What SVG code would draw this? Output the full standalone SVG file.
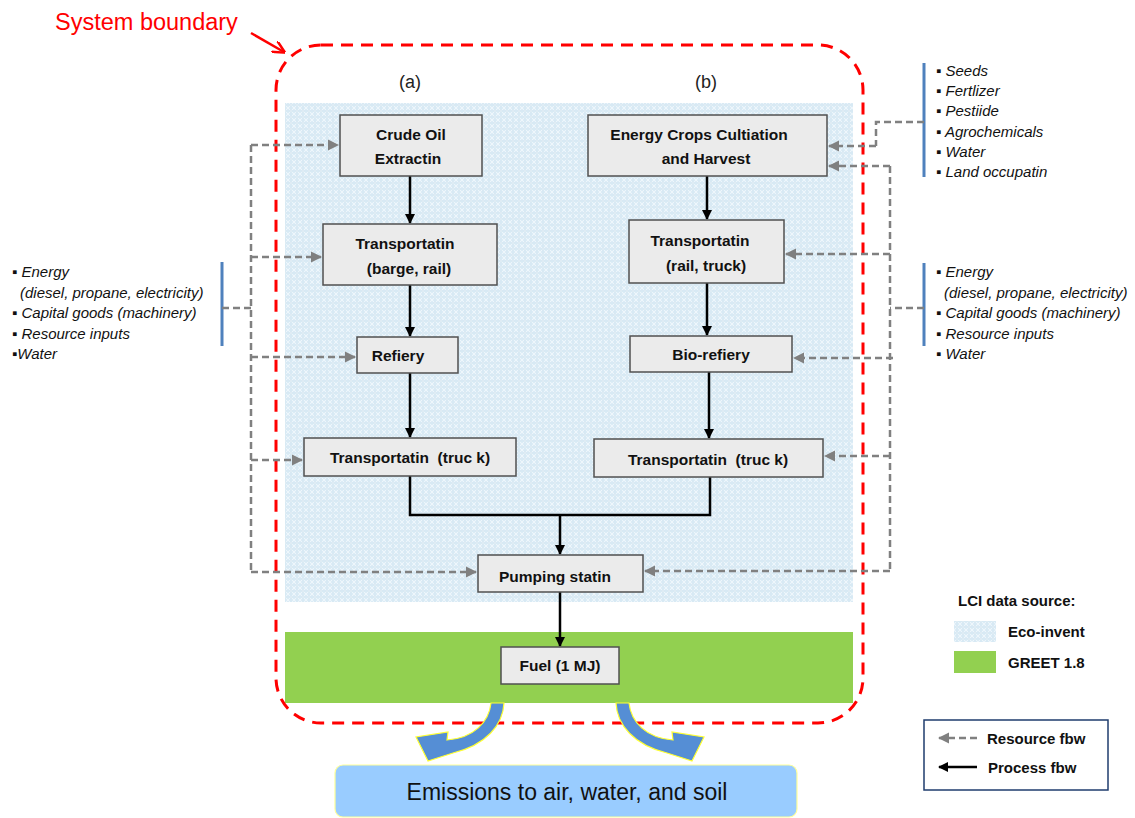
<svg xmlns="http://www.w3.org/2000/svg" width="1135" height="818" viewBox="0 0 1135 818">
<style>
.box{fill:#ebebeb;stroke:#505050;stroke-width:1.5}
.bt{font-family:"Liberation Sans",Arial,sans-serif;font-weight:bold;font-size:15.5px;fill:#111;text-anchor:middle}
.pre{white-space:pre}
.it{font-family:"Liberation Sans",Arial,sans-serif;font-style:italic;font-size:15px;fill:#111}
.res{fill:none;stroke:#808080;stroke-width:2.5;stroke-dasharray:7 4}
.proc{fill:none;stroke:#000;stroke-width:2.5}
.bar{stroke:#4f81bd;stroke-width:3}
.lg{font-family:"Liberation Sans",Arial,sans-serif;font-weight:bold;font-size:15px;fill:#111}
</style>
<defs>
<pattern id="eco" width="6" height="6" patternUnits="userSpaceOnUse">
<rect width="6" height="6" fill="#dcecf6"/>
<path d="M0 0L6 6M6 0L0 6" stroke="#eef6fb" stroke-width="1"/>
<path d="M0 3H6M3 0V6" stroke="#cfe3ef" stroke-width="0.6"/>
</pattern>
<marker id="ga" viewBox="0 0 10 10" refX="9" refY="5" markerWidth="4.5" markerHeight="4.5" orient="auto" markerUnits="strokeWidth">
<path d="M0 0L10 5L0 10z" fill="#808080"/>
</marker>
<marker id="ba" viewBox="0 0 10 10" refX="9" refY="5" markerWidth="4" markerHeight="4" orient="auto" markerUnits="strokeWidth">
<path d="M0 0L10 5L0 10z" fill="#000"/>
</marker>
<marker id="ra" viewBox="0 0 10 10" refX="9" refY="5" markerWidth="5" markerHeight="5" orient="auto" markerUnits="strokeWidth">
<path d="M0 0L10 5L0 10" fill="none" stroke="#ff0000" stroke-width="2"/>
</marker>
</defs>
<rect width="1135" height="818" fill="#fff"/>

<!-- data source areas -->
<rect id="eco-area" x="285" y="103" width="568" height="499" fill="url(#eco)"/>
<rect id="greet-area" x="285" y="632" width="568" height="71" fill="#92d050"/>

<!-- system boundary -->
<g id="boundary">
<rect x="276" y="45" width="587" height="678" rx="45" ry="45" fill="none" stroke="#ff0000" stroke-width="3" stroke-dasharray="12 8"/>
<text x="55" y="30" font-family="Liberation Sans,Arial,sans-serif" font-size="23.5" fill="#ff0000">System boundary</text>
<line x1="251" y1="33" x2="284" y2="52" stroke="#ff0000" stroke-width="2.5" marker-end="url(#ra)"/>
</g>

<text x="410" y="88" font-family="Liberation Sans,Arial,sans-serif" font-size="18" fill="#222" text-anchor="middle">(a)</text>
<text x="706" y="88" font-family="Liberation Sans,Arial,sans-serif" font-size="18" fill="#222" text-anchor="middle">(b)</text>

<!-- connectors -->
<g id="connectors">
<!-- process flows -->
<line class="proc" x1="410" y1="176" x2="410" y2="223" marker-end="url(#ba)"/>
<line class="proc" x1="410" y1="285" x2="410" y2="336" marker-end="url(#ba)"/>
<line class="proc" x1="410" y1="373" x2="410" y2="437" marker-end="url(#ba)"/>
<line class="proc" x1="707" y1="176" x2="707" y2="219" marker-end="url(#ba)"/>
<line class="proc" x1="707" y1="283" x2="707" y2="335" marker-end="url(#ba)"/>
<line class="proc" x1="709" y1="372" x2="709" y2="438" marker-end="url(#ba)"/>
<path class="proc" d="M410 476V515H710V477"/>
<line class="proc" x1="560" y1="515" x2="560" y2="554" marker-end="url(#ba)"/>
<line class="proc" x1="560" y1="592" x2="560" y2="646" marker-end="url(#ba)"/>
<!-- left resource flows -->
<line class="bar" x1="222" y1="262" x2="222" y2="346"/>
<path class="res" d="M222 308H251"/>
<path class="res" d="M251 145V572"/>
<line class="res" x1="251" y1="145" x2="338" y2="145" marker-end="url(#ga)"/>
<line class="res" x1="251" y1="257" x2="321" y2="257" marker-end="url(#ga)"/>
<line class="res" x1="251" y1="357" x2="355" y2="357" marker-end="url(#ga)"/>
<line class="res" x1="251" y1="460" x2="302" y2="460" marker-end="url(#ga)"/>
<line class="res" x1="251" y1="572" x2="476" y2="572" marker-end="url(#ga)"/>
<!-- right resource flows -->
<line class="bar" x1="924" y1="63" x2="924" y2="177"/>
<path class="res" d="M924 122H876V146"/>
<line class="res" x1="876" y1="146" x2="829" y2="146" marker-end="url(#ga)"/>
<line class="bar" x1="924" y1="263" x2="924" y2="346"/>
<path class="res" d="M924 308H890"/>
<path class="res" d="M890 166V571"/>
<line class="res" x1="890" y1="166" x2="829" y2="166" marker-end="url(#ga)"/>
<line class="res" x1="890" y1="254" x2="786" y2="254" marker-end="url(#ga)"/>
<line class="res" x1="893" y1="358" x2="794" y2="358" marker-end="url(#ga)"/>
<line class="res" x1="890" y1="456" x2="825" y2="456" marker-end="url(#ga)"/>
<line class="res" x1="890" y1="571" x2="645" y2="571" marker-end="url(#ga)"/>
</g>

<!-- nodes -->
<g id="crude-oil"><rect class="box" x="340" y="115" width="142" height="61"/>
<text class="bt" x="411" y="140">Crude Oil</text><text class="bt" x="408" y="164">Extractin</text></g>
<g id="transport-a"><rect class="box" x="323" y="224" width="174" height="61"/>
<text class="bt" x="405" y="249">Transportatin</text><text class="bt" x="409" y="274">(barge, rail)</text></g>
<g id="refinery"><rect class="box" x="357" y="337" width="101" height="36"/>
<text class="bt" x="398" y="361">Refiery</text></g>
<g id="truck-a"><rect class="box" x="304" y="438" width="212" height="38"/>
<text class="bt pre" x="410" y="463">Transportatin  (truc k)</text></g>
<g id="crops"><rect class="box" x="588" y="115" width="239" height="61"/>
<text class="bt" x="699" y="140">Energy Crops Cultiation</text><text class="bt" x="706" y="164">and Harvest</text></g>
<g id="transport-b"><rect class="box" x="629" y="220" width="155" height="63"/>
<text class="bt" x="700" y="246">Transportatin</text><text class="bt" x="706" y="271">(rail, truck)</text></g>
<g id="biorefinery"><rect class="box" x="630" y="336" width="162" height="36"/>
<text class="bt" x="711" y="360">Bio-refiery</text></g>
<g id="truck-b"><rect class="box" x="594" y="439" width="229" height="38"/>
<text class="bt pre" x="708" y="465">Transportatin  (truc k)</text></g>
<g id="pumping"><rect class="box" x="478" y="555" width="165" height="37"/>
<text class="bt" x="555" y="582">Pumping statin</text></g>
<g id="fuel"><rect class="box" x="501" y="647" width="118" height="37"/>
<text class="bt" x="560" y="671">Fuel (1 MJ)</text></g>

<!-- input lists -->
<g id="left-inputs" class="it">
<text x="12" y="277">▪ Energy</text>
<text x="20" y="298">(diesel, propane, electricity)</text>
<text x="12" y="318">▪ Capital goods (machinery)</text>
<text x="12" y="339">▪ Resource inputs</text>
<text x="12" y="359">▪Water</text>
</g>
<g id="crop-inputs" class="it">
<text x="936" y="76">▪ Seeds</text>
<text x="936" y="96">▪ Fertlizer</text>
<text x="936" y="116">▪ Pestiide</text>
<text x="936" y="137">▪ Agrochemicals</text>
<text x="936" y="157">▪ Water</text>
<text x="936" y="177">▪ Land occupatin</text>
</g>
<g id="right-inputs" class="it">
<text x="936" y="277">▪ Energy</text>
<text x="944" y="298">(diesel, propane, electricity)</text>
<text x="936" y="318">▪ Capital goods (machinery)</text>
<text x="936" y="339">▪ Resource inputs</text>
<text x="936" y="359">▪ Water</text>
</g>

<!-- emission arrows -->
<g id="emission-arrows" fill="#558ed5" stroke="#ffff33" stroke-width="1.2">
<path d="M491 703C489 722 474 738 447 740L448 732L416 737L428 761L453 753C486 745 503 725 504 703Z"/>
<path d="M629 703C631 722 646 738 673 740L672 732L704 737L692 761L667 753C634 745 617 725 616 703Z"/>
</g>
<g id="emissions">
<rect x="335" y="765" width="462" height="52" rx="8" fill="#99ccff" stroke="#ffff99" stroke-width="1.2"/>
<text x="567" y="800" font-family="Liberation Sans,Arial,sans-serif" font-size="23" fill="#111" text-anchor="middle">Emissions to air, water, and soil</text>
</g>

<!-- legend -->
<g id="legend-source">
<text class="lg" x="958" y="606">LCI data source:</text>
<rect x="954" y="621" width="42" height="21" fill="url(#eco)"/>
<text class="lg" x="1008" y="637">Eco-invent</text>
<rect x="954" y="651" width="42" height="22" fill="#92d050"/>
<text class="lg" x="1008" y="668">GREET 1.8</text>
</g>
<g id="legend-flow">
<rect x="924" y="720" width="184" height="70" fill="#fff" stroke="#1f3d6e" stroke-width="1.5"/>
<line class="res" x1="977" y1="738" x2="939" y2="738" marker-end="url(#ga)"/>
<text class="lg" x="987" y="744">Resource fbw</text>
<line class="proc" x1="977" y1="767" x2="939" y2="767" marker-end="url(#ba)"/>
<text class="lg" x="988" y="773">Process fbw</text>
</g>
</svg>
